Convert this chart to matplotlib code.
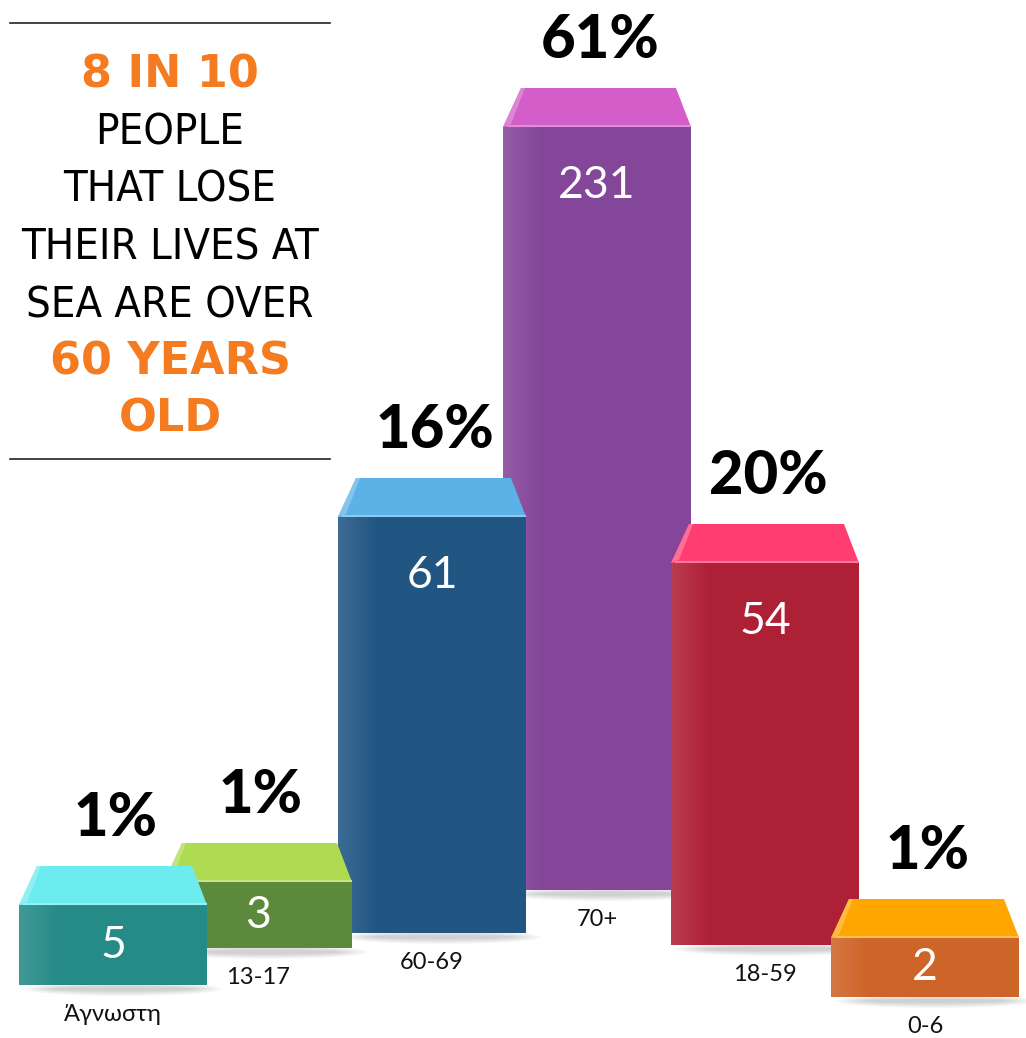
import numpy as np
import matplotlib.pyplot as plt
from matplotlib.patches import Polygon, Ellipse
from matplotlib.colors import to_rgb

# categories as they appear left to right
labels = ["Άγνωστη", "13-17", "60-69", "70+", "18-59", "0-6"]
counts = [5, 3, 61, 231, 54, 2]
pcts = ["1%", "1%", "16%", "61%", "20%", "1%"]

# visual geometry (chart units, y up)
centers = [113, 258, 432, 597, 765, 925]
bases = [53, 90, 105, 148, 93, 41]
heights = [80, 66, 416, 763, 382, 59]

front_colors = ["#268B87", "#5C8A3C", "#215683", "#844699", "#AE2036", "#CD6428"]
top_colors = ["#6CECEE", "#AEDB51", "#5BB2E6", "#D35DC9", "#FF3D70", "#FFA600"]

W = 188
DEPTH = 39
INSET = 18

fig = plt.figure(figsize=(10.26, 10.38), dpi=100)
ax = fig.add_axes([0, 0, 1, 1])
ax.set_xlim(0, 1026)
ax.set_ylim(0, 1038)
ax.axis("off")


def lighten(c, f):
    r, g, b = to_rgb(c)
    return (r + (1 - r) * f, g + (1 - g) * f, b + (1 - b) * f)


for i in range(len(labels)):
    x, b, h = centers[i], bases[i], heights[i]
    z = 10 + (200 - b) / 10.0
    top = b + h
    # soft shadow below
    for k in range(6):
        ax.add_patch(Ellipse((x + 10, b - 4), W * (1.05 - 0.06 * k), 14 - 2 * k,
                             color="#000000", alpha=0.03, lw=0, zorder=z - 0.5))
    # front face
    ax.bar(x, h, bottom=b, width=W, color=front_colors[i], lw=0, zorder=z)
    # lighter left edge gradient
    for k in range(12):
        ax.bar(x - W / 2 + k * 3 + 1.5, h, bottom=b, width=3,
               color=lighten(front_colors[i], 0.12 * (1 - k / 12)), lw=0, zorder=z + 0.01)
    # top face
    l, r = x - W / 2, x + W / 2
    ax.add_patch(Polygon([(l, top), (r, top), (r - INSET + 3, top + DEPTH), (l + INSET, top + DEPTH)],
                         closed=True, color=top_colors[i], lw=0, zorder=z + 0.02))
    ax.add_patch(Polygon([(l, top), (l + 8, top + 3), (l + INSET + 4, top + DEPTH), (l + INSET, top + DEPTH)],
                         closed=True, color=lighten(top_colors[i], 0.25), lw=0, zorder=z + 0.03))
    ax.plot([l + 4, r], [top + 1.5, top + 1.5], color=lighten(top_colors[i], 0.3), lw=1.5,
            solid_capstyle="butt", zorder=z + 0.04)
    # value inside
    vy = max(top - 58, b + h / 2)
    ax.text(x, vy, str(counts[i]), ha="center", va="center", color="white",
            fontsize=32, family=["Lato", "DejaVu Sans"], fontweight="normal", zorder=z + 0.1)
    # percentage above
    ax.text(x + 3, top + DEPTH + 30, pcts[i], ha="center", va="baseline", color="black",
            fontsize=43, family=["Lato", "DejaVu Sans"], fontweight="black", zorder=z + 0.1)
    # category below
    ax.text(x, b - 36, labels[i], ha="center", va="baseline", color="#111111",
            fontsize=17, family=["Lato", "DejaVu Sans"], zorder=z + 0.1)

# headline block
orange = "#F47B20"
head_lines = ["8 IN 10", "PEOPLE", "THAT LOSE", "THEIR LIVES AT", "SEA ARE OVER", "60 YEARS", "OLD"]
accent = [True, False, False, False, False, True, True]
plain = []
for j, (t, a) in enumerate(zip(head_lines, accent)):
    yb = 1038 - (87 + j * 57.5)
    if a:
        ax.text(170, yb, t, ha="center", va="baseline", color=orange, fontsize=32,
                family="DejaVu Sans", fontweight="bold")
    else:
        plain.append(ax.text(170, yb, t, ha="center", va="baseline", color="black", fontsize=34,
                             family="DejaVu Sans", fontstretch="condensed"))

# fit the widest plain line to the width seen in the picture (~298 px)
fig.canvas.draw()
rend = fig.canvas.get_renderer()
widest = max(tx.get_window_extent(rend).width for tx in plain)
for tx in plain:
    tx.set_fontsize(34 * 298 / widest)

ax.plot([10, 330], [1038 - 23, 1038 - 23], color="#222222", lw=1.2)
ax.plot([10, 330], [1038 - 459, 1038 - 459], color="#222222", lw=1.2)

fig.savefig("out.png", dpi=100)
